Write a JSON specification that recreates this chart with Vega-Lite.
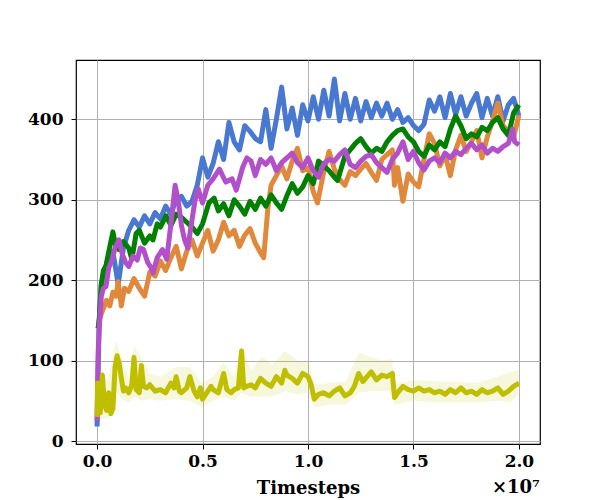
{
"$schema":"https://vega.github.io/schema/vega-lite/v6.json",
"width":464,"height":384,"autosize":"none",
"padding":{"left":76,"top":60,"right":60,"bottom":56},
"background":"white",
"config":{"view":{"stroke":"black","strokeWidth":1.2},
"axis":{"domain":false,"grid":true,"gridColor":"#b0b0b0","gridWidth":1,"tickColor":"black","tickSize":5,"tickWidth":1,"labelFont":"DejaVu Serif","labelFontWeight":"bold","labelFontSize":17,"labelColor":"black","titleFont":"DejaVu Serif","titleFontWeight":"bold","titleFontSize":18,"titleColor":"black"},
"title":{"font":"DejaVu Serif","fontSize":18,"fontWeight":"bold","color":"black"}},
"title":{"text":"×10⁷","orient":"bottom","anchor":"end","offset":-18},
"data":{"values":[
{"s":"yband","x":0,"lo":20,"hi":80},{"s":"yband","x":0.2,"lo":28,"hi":90},{"s":"yband","x":0.5,"lo":28,"hi":75},{"s":"yband","x":0.9,"lo":60,"hi":125},{"s":"yband","x":1.2,"lo":52,"hi":100},{"s":"yband","x":1.5,"lo":48,"hi":78},{"s":"yband","x":1.75,"lo":55,"hi":118},{"s":"yband","x":2.1,"lo":50,"hi":104},{"s":"yband","x":2.5,"lo":52,"hi":84},{"s":"yband","x":3.0,"lo":50,"hi":80},{"s":"yband","x":3.75,"lo":52,"hi":92},{"s":"yband","x":4.4,"lo":50,"hi":92},{"s":"yband","x":5.0,"lo":42,"hi":72},{"s":"yband","x":5.5,"lo":50,"hi":80},{"s":"yband","x":6.0,"lo":55,"hi":98},{"s":"yband","x":6.5,"lo":50,"hi":80},{"s":"yband","x":6.85,"lo":60,"hi":120},{"s":"yband","x":7.3,"lo":55,"hi":88},{"s":"yband","x":7.8,"lo":55,"hi":105},{"s":"yband","x":8.3,"lo":55,"hi":95},{"s":"yband","x":8.9,"lo":62,"hi":112},{"s":"yband","x":9.5,"lo":58,"hi":100},{"s":"yband","x":10.0,"lo":60,"hi":98},{"s":"yband","x":10.3,"lo":42,"hi":70},{"s":"yband","x":11.0,"lo":45,"hi":72},{"s":"yband","x":11.8,"lo":45,"hi":74},{"s":"yband","x":12.4,"lo":60,"hi":110},{"s":"yband","x":13.0,"lo":62,"hi":104},{"s":"yband","x":13.5,"lo":62,"hi":100},{"s":"yband","x":14.0,"lo":62,"hi":102},{"s":"yband","x":14.1,"lo":45,"hi":70},{"s":"yband","x":15.0,"lo":50,"hi":76},{"s":"yband","x":16.0,"lo":48,"hi":74},{"s":"yband","x":17.0,"lo":48,"hi":74},{"s":"yband","x":18.0,"lo":48,"hi":72},{"s":"yband","x":19.0,"lo":50,"hi":80},{"s":"yband","x":19.6,"lo":48,"hi":86},{"s":"yband","x":20.0,"lo":58,"hi":88},
{"s":"blue","x":0,"y":18},{"s":"blue","x":0.05,"y":90},{"s":"blue","x":0.1,"y":150},{"s":"blue","x":0.2,"y":195},{"s":"blue","x":0.35,"y":210},{"s":"blue","x":0.5,"y":225},{"s":"blue","x":0.75,"y":235},{"s":"blue","x":1.0,"y":195},{"s":"blue","x":1.25,"y":240},{"s":"blue","x":1.5,"y":262},{"s":"blue","x":1.75,"y":275},{"s":"blue","x":2.0,"y":266},{"s":"blue","x":2.25,"y":280},{"s":"blue","x":2.5,"y":270},{"s":"blue","x":2.75,"y":284},{"s":"blue","x":3.0,"y":276},{"s":"blue","x":3.25,"y":292},{"s":"blue","x":3.5,"y":282},{"s":"blue","x":3.75,"y":300},{"s":"blue","x":4.0,"y":304},{"s":"blue","x":4.25,"y":292},{"s":"blue","x":4.5,"y":298},{"s":"blue","x":4.75,"y":318},{"s":"blue","x":5.0,"y":352},{"s":"blue","x":5.25,"y":328},{"s":"blue","x":5.5,"y":345},{"s":"blue","x":5.75,"y":372},{"s":"blue","x":6.0,"y":350},{"s":"blue","x":6.25,"y":396},{"s":"blue","x":6.5,"y":372},{"s":"blue","x":6.75,"y":362},{"s":"blue","x":7.0,"y":392},{"s":"blue","x":7.25,"y":385},{"s":"blue","x":7.5,"y":376},{"s":"blue","x":7.75,"y":372},{"s":"blue","x":8.0,"y":412},{"s":"blue","x":8.25,"y":364},{"s":"blue","x":8.5,"y":400},{"s":"blue","x":8.75,"y":440},{"s":"blue","x":9.0,"y":388},{"s":"blue","x":9.25,"y":414},{"s":"blue","x":9.5,"y":380},{"s":"blue","x":9.75,"y":418},{"s":"blue","x":10.0,"y":398},{"s":"blue","x":10.25,"y":428},{"s":"blue","x":10.5,"y":400},{"s":"blue","x":10.75,"y":436},{"s":"blue","x":11.0,"y":404},{"s":"blue","x":11.25,"y":450},{"s":"blue","x":11.5,"y":398},{"s":"blue","x":11.75,"y":432},{"s":"blue","x":12.0,"y":400},{"s":"blue","x":12.25,"y":426},{"s":"blue","x":12.5,"y":398},{"s":"blue","x":12.75,"y":422},{"s":"blue","x":13.0,"y":402},{"s":"blue","x":13.25,"y":420},{"s":"blue","x":13.5,"y":404},{"s":"blue","x":13.75,"y":420},{"s":"blue","x":14.0,"y":400},{"s":"blue","x":14.25,"y":412},{"s":"blue","x":14.5,"y":396},{"s":"blue","x":14.75,"y":402},{"s":"blue","x":15.0,"y":392},{"s":"blue","x":15.25,"y":386},{"s":"blue","x":15.5,"y":394},{"s":"blue","x":15.75,"y":424},{"s":"blue","x":16.0,"y":410},{"s":"blue","x":16.25,"y":428},{"s":"blue","x":16.5,"y":402},{"s":"blue","x":16.75,"y":432},{"s":"blue","x":17.0,"y":406},{"s":"blue","x":17.25,"y":428},{"s":"blue","x":17.5,"y":404},{"s":"blue","x":17.75,"y":420},{"s":"blue","x":18.0,"y":432},{"s":"blue","x":18.25,"y":402},{"s":"blue","x":18.5,"y":426},{"s":"blue","x":18.75,"y":404},{"s":"blue","x":19.0,"y":428},{"s":"blue","x":19.25,"y":398},{"s":"blue","x":19.5,"y":418},{"s":"blue","x":19.75,"y":426},{"s":"blue","x":20.0,"y":404},
{"s":"orange","x":0.05,"y":140},{"s":"orange","x":0.1,"y":150},{"s":"orange","x":0.2,"y":158},{"s":"orange","x":0.3,"y":165},{"s":"orange","x":0.45,"y":175},{"s":"orange","x":0.6,"y":168},{"s":"orange","x":0.75,"y":185},{"s":"orange","x":0.9,"y":180},{"s":"orange","x":1.0,"y":198},{"s":"orange","x":1.15,"y":168},{"s":"orange","x":1.3,"y":190},{"s":"orange","x":1.5,"y":186},{"s":"orange","x":1.75,"y":202},{"s":"orange","x":2.0,"y":190},{"s":"orange","x":2.25,"y":180},{"s":"orange","x":2.5,"y":210},{"s":"orange","x":2.75,"y":205},{"s":"orange","x":3.0,"y":224},{"s":"orange","x":3.25,"y":212},{"s":"orange","x":3.5,"y":228},{"s":"orange","x":3.75,"y":242},{"s":"orange","x":4.0,"y":214},{"s":"orange","x":4.25,"y":236},{"s":"orange","x":4.5,"y":250},{"s":"orange","x":4.75,"y":230},{"s":"orange","x":5.0,"y":246},{"s":"orange","x":5.25,"y":262},{"s":"orange","x":5.5,"y":236},{"s":"orange","x":5.75,"y":250},{"s":"orange","x":6.0,"y":272},{"s":"orange","x":6.25,"y":255},{"s":"orange","x":6.5,"y":262},{"s":"orange","x":6.75,"y":242},{"s":"orange","x":7.0,"y":256},{"s":"orange","x":7.25,"y":264},{"s":"orange","x":7.5,"y":246},{"s":"orange","x":7.75,"y":234},{"s":"orange","x":7.9,"y":228},{"s":"orange","x":8.1,"y":290},{"s":"orange","x":8.25,"y":318},{"s":"orange","x":8.5,"y":330},{"s":"orange","x":8.75,"y":342},{"s":"orange","x":9.0,"y":326},{"s":"orange","x":9.25,"y":348},{"s":"orange","x":9.5,"y":364},{"s":"orange","x":9.75,"y":336},{"s":"orange","x":10.0,"y":340},{"s":"orange","x":10.25,"y":310},{"s":"orange","x":10.45,"y":296},{"s":"orange","x":10.75,"y":335},{"s":"orange","x":11.0,"y":360},{"s":"orange","x":11.25,"y":338},{"s":"orange","x":11.5,"y":325},{"s":"orange","x":11.75,"y":318},{"s":"orange","x":12.0,"y":335},{"s":"orange","x":12.25,"y":330},{"s":"orange","x":12.5,"y":338},{"s":"orange","x":12.75,"y":345},{"s":"orange","x":13.0,"y":334},{"s":"orange","x":13.25,"y":324},{"s":"orange","x":13.5,"y":350},{"s":"orange","x":13.75,"y":356},{"s":"orange","x":14.0,"y":362},{"s":"orange","x":14.1,"y":318},{"s":"orange","x":14.25,"y":340},{"s":"orange","x":14.5,"y":298},{"s":"orange","x":14.75,"y":332},{"s":"orange","x":15.0,"y":322},{"s":"orange","x":15.25,"y":316},{"s":"orange","x":15.5,"y":350},{"s":"orange","x":15.75,"y":382},{"s":"orange","x":16.0,"y":370},{"s":"orange","x":16.25,"y":342},{"s":"orange","x":16.5,"y":356},{"s":"orange","x":16.75,"y":330},{"s":"orange","x":17.0,"y":362},{"s":"orange","x":17.25,"y":380},{"s":"orange","x":17.5,"y":360},{"s":"orange","x":17.75,"y":372},{"s":"orange","x":18.0,"y":386},{"s":"orange","x":18.25,"y":352},{"s":"orange","x":18.5,"y":378},{"s":"orange","x":18.75,"y":398},{"s":"orange","x":19.0,"y":420},{"s":"orange","x":19.25,"y":392},{"s":"orange","x":19.5,"y":385},{"s":"orange","x":19.75,"y":378},{"s":"orange","x":20.0,"y":405},
{"s":"green","x":0.05,"y":140},{"s":"green","x":0.1,"y":150},{"s":"green","x":0.2,"y":195},{"s":"green","x":0.3,"y":212},{"s":"green","x":0.42,"y":218},{"s":"green","x":0.55,"y":235},{"s":"green","x":0.75,"y":260},{"s":"green","x":0.9,"y":240},{"s":"green","x":1.04,"y":238},{"s":"green","x":1.25,"y":248},{"s":"green","x":1.5,"y":240},{"s":"green","x":1.65,"y":226},{"s":"green","x":1.85,"y":258},{"s":"green","x":2.0,"y":262},{"s":"green","x":2.25,"y":246},{"s":"green","x":2.5,"y":255},{"s":"green","x":2.65,"y":250},{"s":"green","x":2.85,"y":270},{"s":"green","x":3.0,"y":266},{"s":"green","x":3.27,"y":280},{"s":"green","x":3.5,"y":268},{"s":"green","x":3.75,"y":282},{"s":"green","x":4.0,"y":278},{"s":"green","x":4.25,"y":272},{"s":"green","x":4.5,"y":266},{"s":"green","x":4.75,"y":258},{"s":"green","x":5.0,"y":270},{"s":"green","x":5.3,"y":296},{"s":"green","x":5.55,"y":302},{"s":"green","x":5.75,"y":286},{"s":"green","x":6.0,"y":295},{"s":"green","x":6.25,"y":280},{"s":"green","x":6.5,"y":300},{"s":"green","x":6.75,"y":292},{"s":"green","x":7.0,"y":282},{"s":"green","x":7.25,"y":298},{"s":"green","x":7.5,"y":288},{"s":"green","x":7.75,"y":302},{"s":"green","x":8.0,"y":292},{"s":"green","x":8.25,"y":306},{"s":"green","x":8.5,"y":296},{"s":"green","x":8.75,"y":288},{"s":"green","x":9.0,"y":305},{"s":"green","x":9.25,"y":320},{"s":"green","x":9.5,"y":308},{"s":"green","x":9.75,"y":316},{"s":"green","x":10.0,"y":330},{"s":"green","x":10.25,"y":320},{"s":"green","x":10.5,"y":348},{"s":"green","x":10.75,"y":342},{"s":"green","x":11.0,"y":336},{"s":"green","x":11.25,"y":328},{"s":"green","x":11.4,"y":324},{"s":"green","x":11.75,"y":354},{"s":"green","x":12.0,"y":362},{"s":"green","x":12.25,"y":370},{"s":"green","x":12.5,"y":376},{"s":"green","x":12.75,"y":366},{"s":"green","x":13.0,"y":358},{"s":"green","x":13.25,"y":364},{"s":"green","x":13.5,"y":360},{"s":"green","x":13.75,"y":372},{"s":"green","x":14.0,"y":380},{"s":"green","x":14.25,"y":386},{"s":"green","x":14.5,"y":388},{"s":"green","x":14.75,"y":378},{"s":"green","x":15.0,"y":372},{"s":"green","x":15.25,"y":360},{"s":"green","x":15.5,"y":354},{"s":"green","x":15.75,"y":368},{"s":"green","x":16.0,"y":362},{"s":"green","x":16.25,"y":372},{"s":"green","x":16.5,"y":366},{"s":"green","x":16.75,"y":388},{"s":"green","x":17.0,"y":404},{"s":"green","x":17.25,"y":392},{"s":"green","x":17.5,"y":376},{"s":"green","x":17.75,"y":382},{"s":"green","x":18.0,"y":378},{"s":"green","x":18.25,"y":390},{"s":"green","x":18.5,"y":386},{"s":"green","x":18.75,"y":396},{"s":"green","x":19.0,"y":402},{"s":"green","x":19.25,"y":388},{"s":"green","x":19.5,"y":380},{"s":"green","x":19.75,"y":408},{"s":"green","x":20.0,"y":418},
{"s":"purple","x":0,"y":25},{"s":"purple","x":0.05,"y":110},{"s":"purple","x":0.1,"y":140},{"s":"purple","x":0.2,"y":180},{"s":"purple","x":0.3,"y":190},{"s":"purple","x":0.42,"y":192},{"s":"purple","x":0.55,"y":215},{"s":"purple","x":0.7,"y":225},{"s":"purple","x":0.85,"y":240},{"s":"purple","x":1.04,"y":250},{"s":"purple","x":1.2,"y":232},{"s":"purple","x":1.35,"y":222},{"s":"purple","x":1.5,"y":217},{"s":"purple","x":1.7,"y":230},{"s":"purple","x":1.9,"y":225},{"s":"purple","x":2.05,"y":240},{"s":"purple","x":2.2,"y":238},{"s":"purple","x":2.4,"y":222},{"s":"purple","x":2.55,"y":216},{"s":"purple","x":2.65,"y":209},{"s":"purple","x":2.85,"y":228},{"s":"purple","x":3.1,"y":238},{"s":"purple","x":3.3,"y":226},{"s":"purple","x":3.5,"y":270},{"s":"purple","x":3.7,"y":318},{"s":"purple","x":3.85,"y":298},{"s":"purple","x":4.0,"y":268},{"s":"purple","x":4.15,"y":250},{"s":"purple","x":4.3,"y":240},{"s":"purple","x":4.5,"y":275},{"s":"purple","x":4.65,"y":300},{"s":"purple","x":4.8,"y":313},{"s":"purple","x":5.0,"y":296},{"s":"purple","x":5.25,"y":318},{"s":"purple","x":5.5,"y":326},{"s":"purple","x":5.8,"y":338},{"s":"purple","x":6.1,"y":322},{"s":"purple","x":6.4,"y":326},{"s":"purple","x":6.6,"y":312},{"s":"purple","x":6.9,"y":340},{"s":"purple","x":7.1,"y":352},{"s":"purple","x":7.3,"y":348},{"s":"purple","x":7.5,"y":330},{"s":"purple","x":7.75,"y":350},{"s":"purple","x":8.0,"y":344},{"s":"purple","x":8.25,"y":352},{"s":"purple","x":8.5,"y":336},{"s":"purple","x":8.75,"y":346},{"s":"purple","x":9.0,"y":352},{"s":"purple","x":9.25,"y":358},{"s":"purple","x":9.5,"y":346},{"s":"purple","x":9.75,"y":340},{"s":"purple","x":10.0,"y":352},{"s":"purple","x":10.25,"y":336},{"s":"purple","x":10.5,"y":328},{"s":"purple","x":10.75,"y":345},{"s":"purple","x":11.0,"y":350},{"s":"purple","x":11.25,"y":348},{"s":"purple","x":11.5,"y":356},{"s":"purple","x":11.75,"y":362},{"s":"purple","x":12.0,"y":344},{"s":"purple","x":12.25,"y":340},{"s":"purple","x":12.5,"y":348},{"s":"purple","x":12.75,"y":354},{"s":"purple","x":13.0,"y":356},{"s":"purple","x":13.25,"y":346},{"s":"purple","x":13.5,"y":340},{"s":"purple","x":13.75,"y":334},{"s":"purple","x":14.0,"y":350},{"s":"purple","x":14.25,"y":358},{"s":"purple","x":14.5,"y":372},{"s":"purple","x":14.75,"y":350},{"s":"purple","x":15.0,"y":360},{"s":"purple","x":15.25,"y":346},{"s":"purple","x":15.5,"y":337},{"s":"purple","x":15.75,"y":348},{"s":"purple","x":16.0,"y":352},{"s":"purple","x":16.25,"y":346},{"s":"purple","x":16.5,"y":358},{"s":"purple","x":16.75,"y":352},{"s":"purple","x":17.0,"y":360},{"s":"purple","x":17.25,"y":356},{"s":"purple","x":17.5,"y":364},{"s":"purple","x":17.75,"y":370},{"s":"purple","x":18.0,"y":362},{"s":"purple","x":18.25,"y":368},{"s":"purple","x":18.5,"y":358},{"s":"purple","x":18.75,"y":364},{"s":"purple","x":19.0,"y":360},{"s":"purple","x":19.25,"y":366},{"s":"purple","x":19.5,"y":370},{"s":"purple","x":19.7,"y":388},{"s":"purple","x":19.8,"y":372},{"s":"purple","x":20.0,"y":368},
{"s":"yellow","x":0,"y":30},{"s":"yellow","x":0.02,"y":72},{"s":"yellow","x":0.05,"y":40},{"s":"yellow","x":0.1,"y":62},{"s":"yellow","x":0.15,"y":35},{"s":"yellow","x":0.25,"y":82},{"s":"yellow","x":0.35,"y":45},{"s":"yellow","x":0.45,"y":38},{"s":"yellow","x":0.55,"y":60},{"s":"yellow","x":0.65,"y":34},{"s":"yellow","x":0.75,"y":40},{"s":"yellow","x":0.85,"y":92},{"s":"yellow","x":0.95,"y":106},{"s":"yellow","x":1.05,"y":96},{"s":"yellow","x":1.15,"y":78},{"s":"yellow","x":1.25,"y":62},{"s":"yellow","x":1.35,"y":66},{"s":"yellow","x":1.5,"y":60},{"s":"yellow","x":1.65,"y":70},{"s":"yellow","x":1.75,"y":104},{"s":"yellow","x":1.85,"y":64},{"s":"yellow","x":2.0,"y":60},{"s":"yellow","x":2.1,"y":94},{"s":"yellow","x":2.2,"y":68},{"s":"yellow","x":2.35,"y":66},{"s":"yellow","x":2.5,"y":70},{"s":"yellow","x":2.75,"y":62},{"s":"yellow","x":3.0,"y":64},{"s":"yellow","x":3.25,"y":60},{"s":"yellow","x":3.5,"y":72},{"s":"yellow","x":3.65,"y":66},{"s":"yellow","x":3.75,"y":80},{"s":"yellow","x":3.9,"y":62},{"s":"yellow","x":4.0,"y":60},{"s":"yellow","x":4.25,"y":66},{"s":"yellow","x":4.4,"y":80},{"s":"yellow","x":4.6,"y":62},{"s":"yellow","x":4.75,"y":55},{"s":"yellow","x":4.9,"y":66},{"s":"yellow","x":5.0,"y":52},{"s":"yellow","x":5.25,"y":62},{"s":"yellow","x":5.4,"y":68},{"s":"yellow","x":5.5,"y":64},{"s":"yellow","x":5.75,"y":60},{"s":"yellow","x":6.0,"y":84},{"s":"yellow","x":6.15,"y":64},{"s":"yellow","x":6.35,"y":60},{"s":"yellow","x":6.5,"y":64},{"s":"yellow","x":6.7,"y":66},{"s":"yellow","x":6.85,"y":112},{"s":"yellow","x":6.95,"y":66},{"s":"yellow","x":7.1,"y":68},{"s":"yellow","x":7.3,"y":70},{"s":"yellow","x":7.5,"y":66},{"s":"yellow","x":7.75,"y":78},{"s":"yellow","x":8.0,"y":72},{"s":"yellow","x":8.25,"y":68},{"s":"yellow","x":8.5,"y":80},{"s":"yellow","x":8.75,"y":72},{"s":"yellow","x":8.9,"y":88},{"s":"yellow","x":9.0,"y":82},{"s":"yellow","x":9.25,"y":78},{"s":"yellow","x":9.5,"y":72},{"s":"yellow","x":9.75,"y":84},{"s":"yellow","x":10.0,"y":80},{"s":"yellow","x":10.15,"y":70},{"s":"yellow","x":10.3,"y":52},{"s":"yellow","x":10.5,"y":58},{"s":"yellow","x":10.75,"y":60},{"s":"yellow","x":11.0,"y":56},{"s":"yellow","x":11.25,"y":62},{"s":"yellow","x":11.5,"y":66},{"s":"yellow","x":11.75,"y":56},{"s":"yellow","x":12.0,"y":60},{"s":"yellow","x":12.2,"y":68},{"s":"yellow","x":12.4,"y":84},{"s":"yellow","x":12.6,"y":74},{"s":"yellow","x":12.8,"y":80},{"s":"yellow","x":13.0,"y":86},{"s":"yellow","x":13.25,"y":76},{"s":"yellow","x":13.5,"y":82},{"s":"yellow","x":13.75,"y":80},{"s":"yellow","x":14.0,"y":84},{"s":"yellow","x":14.1,"y":54},{"s":"yellow","x":14.25,"y":60},{"s":"yellow","x":14.5,"y":68},{"s":"yellow","x":14.75,"y":64},{"s":"yellow","x":15.0,"y":62},{"s":"yellow","x":15.25,"y":66},{"s":"yellow","x":15.5,"y":62},{"s":"yellow","x":15.75,"y":64},{"s":"yellow","x":16.0,"y":60},{"s":"yellow","x":16.25,"y":62},{"s":"yellow","x":16.5,"y":58},{"s":"yellow","x":16.75,"y":64},{"s":"yellow","x":17.0,"y":60},{"s":"yellow","x":17.25,"y":66},{"s":"yellow","x":17.5,"y":60},{"s":"yellow","x":17.75,"y":62},{"s":"yellow","x":18.0,"y":58},{"s":"yellow","x":18.25,"y":64},{"s":"yellow","x":18.5,"y":60},{"s":"yellow","x":18.75,"y":62},{"s":"yellow","x":19.0,"y":66},{"s":"yellow","x":19.25,"y":58},{"s":"yellow","x":19.5,"y":62},{"s":"yellow","x":19.75,"y":68},{"s":"yellow","x":20.0,"y":72}
]},
"encoding":{
"x":{"field":"x","type":"quantitative","scale":{"domain":[-1,21],"nice":false,"zero":false},"axis":{"values":[0,5,10,15,20],"labelExpr":"format(datum.value/10,'.1f')","title":"Timesteps","labelPadding":4,"titlePadding":10}},
"y":{"field":"y","type":"quantitative","scale":{"domain":[-3.7,473.7],"nice":false,"zero":false},"axis":{"values":[0,100,200,300,400],"title":null,"labelPadding":8}}
},
"layer":[
{"transform":[{"filter":"datum.s=='yband'"}],"mark":{"type":"area","color":"#BFBF00","opacity":0.13},"encoding":{"y":{"field":"lo","type":"quantitative"},"y2":{"field":"hi"}}},
{"transform":[{"filter":"datum.s!='yband'"}],"mark":{"type":"line","strokeWidth":5,"strokeJoin":"round"},
"encoding":{"color":{"field":"s","type":"nominal","scale":{"domain":["blue","orange","green","purple","yellow"],"range":["#4878CF","#E0893D","#008000","#B24FCB","#BFBF00"]},"legend":null},
"order":{"field":"x","type":"quantitative"}}}
]
}
